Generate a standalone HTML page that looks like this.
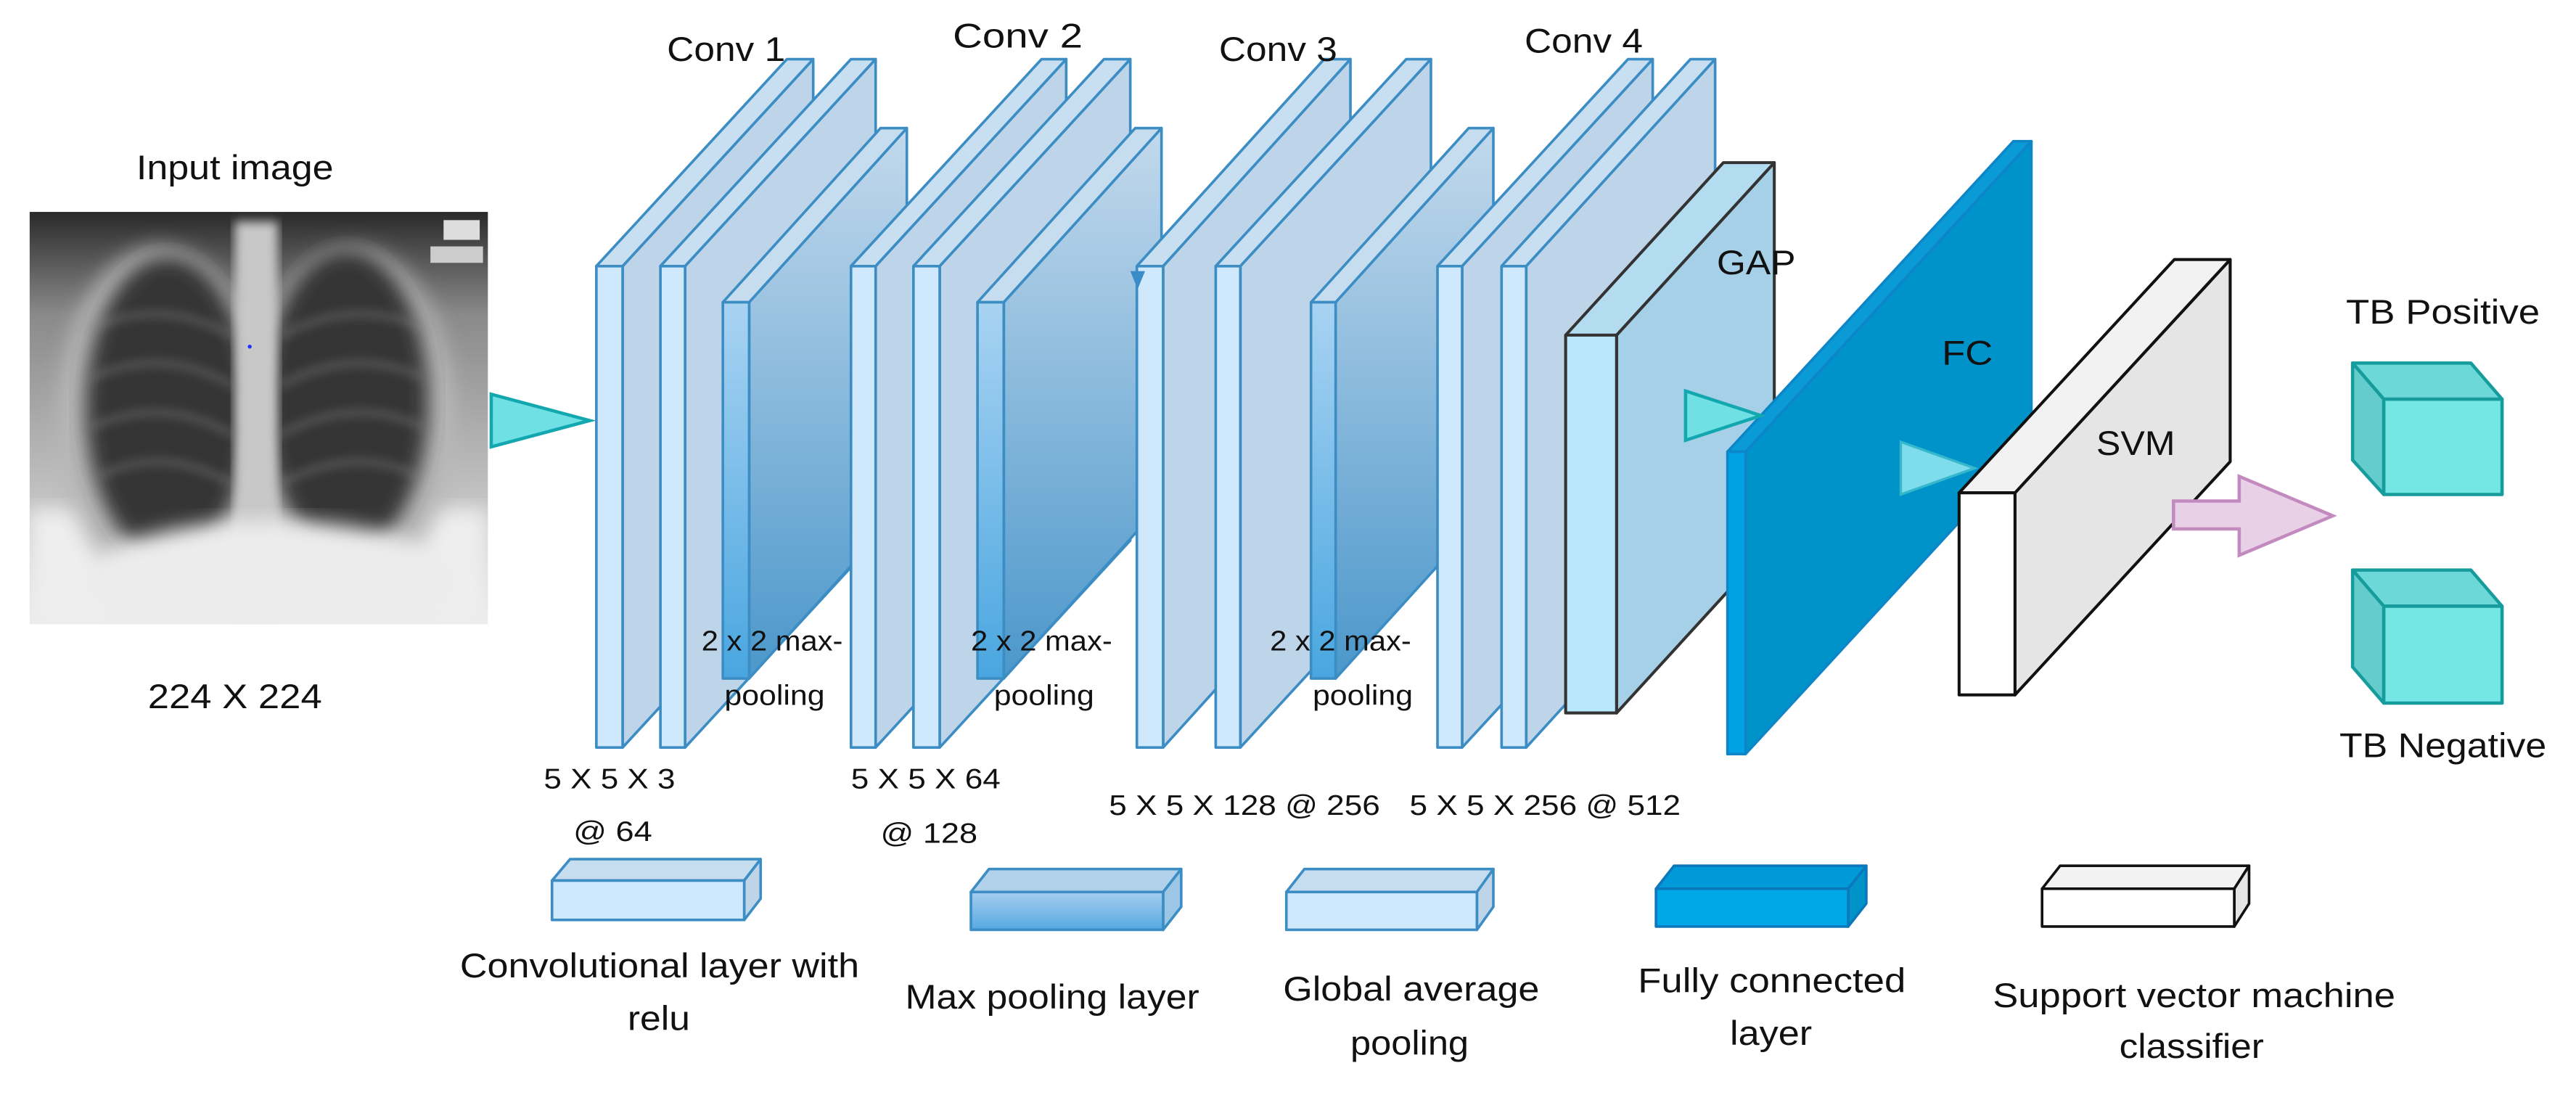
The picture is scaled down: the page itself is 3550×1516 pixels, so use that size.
<!DOCTYPE html>
<html><head><meta charset="utf-8"><style>
html,body{margin:0;padding:0;background:#fff;}
svg{display:block;}
text{font-family:"Liberation Sans",Arial,sans-serif;fill:#111;}
</style></head><body>
<svg width="3550" height="1516" viewBox="0 0 1568 669.6" preserveAspectRatio="none" xmlns="http://www.w3.org/2000/svg">
<defs>
<linearGradient id="pg" x1="0" y1="0" x2="0" y2="1"><stop offset="0" stop-color="#c3d9ec"/><stop offset="1" stop-color="#4b97cb"/></linearGradient>
<linearGradient id="pf" x1="0" y1="0" x2="0" y2="1"><stop offset="0" stop-color="#a9d3f2"/><stop offset="1" stop-color="#49a6e0"/></linearGradient>
<linearGradient id="lp" x1="0" y1="0" x2="0" y2="1"><stop offset="0" stop-color="#a5cdef"/><stop offset="1" stop-color="#56a9e2"/></linearGradient>
<linearGradient id="xbg" x1="0" y1="0" x2="0" y2="1"><stop offset="0" stop-color="#2a2a2a"/><stop offset="0.25" stop-color="#8a8a8a"/><stop offset="0.8" stop-color="#d0d0d0"/><stop offset="1" stop-color="#ececec"/></linearGradient>
<filter id="bl"><feGaussianBlur stdDeviation="6"/></filter>
<filter id="bl2"><feGaussianBlur stdDeviation="3"/></filter>
<clipPath id="xc"><rect x="18" y="129" width="279" height="251"/></clipPath>
</defs>

<!-- input image -->
<text x="143" y="109" font-size="21" text-anchor="middle" textLength="120" lengthAdjust="spacingAndGlyphs">Input image</text>
<g clip-path="url(#xc)">
<rect x="18" y="129" width="279" height="251" fill="url(#xbg)"/>
<rect x="18" y="310" width="279" height="70" fill="#eeeeee" filter="url(#bl)"/>
<ellipse cx="98" cy="255" rx="62" ry="105" fill="#b8b8b8" filter="url(#bl)"/>
<ellipse cx="214" cy="255" rx="62" ry="105" fill="#b8b8b8" filter="url(#bl)"/>
<ellipse cx="102" cy="248" rx="50" ry="92" fill="#353535" filter="url(#bl)"/>
<ellipse cx="211" cy="244" rx="50" ry="92" fill="#353535" filter="url(#bl)"/>
<rect x="143" y="135" width="26" height="245" fill="#c8c8c8" filter="url(#bl2)"/>
<ellipse cx="165" cy="355" rx="115" ry="38" fill="#ececec" filter="url(#bl)"/>
<g stroke="#8a8a8a" stroke-width="3" fill="none" opacity="0.55" filter="url(#bl2)">
<path d="M55 200 Q100 180 142 205"/><path d="M55 230 Q100 210 142 235"/><path d="M55 260 Q100 240 142 265"/><path d="M60 290 Q100 270 142 295"/>
<path d="M170 205 Q215 180 258 200"/><path d="M170 235 Q215 210 258 230"/><path d="M170 265 Q215 240 258 260"/><path d="M170 295 Q215 270 255 290"/>
</g>
<rect x="270" y="134" width="22" height="12" fill="#ddd"/>
<rect x="262" y="150" width="32" height="10" fill="#ccc"/>
<circle cx="152" cy="211" r="1.2" fill="#2030ff"/>
</g>
<text x="143" y="431" font-size="21" text-anchor="middle" textLength="106" lengthAdjust="spacingAndGlyphs">224 X 224</text>

<!-- input arrow -->
<polygon points="299,240 299,272 359,256" fill="#6fe0e4" stroke="#13a8b0" stroke-width="2"/>

<!-- layers -->
<g stroke="#3c8dc4" stroke-width="1.6" stroke-linejoin="round">
<polygon points="379,162 495,36 495,329 379,455" fill="#bed4e8"/><polygon points="363,162 479,36 495,36 379,162" fill="#c8def1"/><rect x="363" y="162" width="16" height="293" fill="#cfe8fb"/>
<polygon points="417,162 533,36 533,329 417,455" fill="#bed4e8"/><polygon points="402,162 518,36 533,36 417,162" fill="#c8def1"/><rect x="402" y="162" width="15" height="293" fill="#cfe8fb"/>
<polygon points="456,184 552,78 552,307 456,413" fill="url(#pg)"/><polygon points="440,184 536,78 552,78 456,184" fill="#c6dcef"/><rect x="440" y="184" width="16" height="229" fill="url(#pf)"/>
<polygon points="533,162 649,36 649,329 533,455" fill="#bed4e8"/><polygon points="518,162 634,36 649,36 533,162" fill="#c8def1"/><rect x="518" y="162" width="15" height="293" fill="#cfe8fb"/>
<polygon points="572,162 688,36 688,329 572,455" fill="#bed4e8"/><polygon points="556,162 672,36 688,36 572,162" fill="#c8def1"/><rect x="556" y="162" width="16" height="293" fill="#cfe8fb"/>
<polygon points="611,184 707,78 707,307 611,413" fill="url(#pg)"/><polygon points="595,184 691,78 707,78 611,184" fill="#c6dcef"/><rect x="595" y="184" width="16" height="229" fill="url(#pf)"/>
<polygon points="708,162 822,36 822,329 708,455" fill="#bed4e8"/><polygon points="692,162 806,36 822,36 708,162" fill="#c8def1"/><rect x="692" y="162" width="16" height="293" fill="#cfe8fb"/>
<polygon points="755,162 871,36 871,329 755,455" fill="#bed4e8"/><polygon points="740,162 856,36 871,36 755,162" fill="#c8def1"/><rect x="740" y="162" width="15" height="293" fill="#cfe8fb"/>
<polygon points="813,184 909,78 909,307 813,413" fill="url(#pg)"/><polygon points="798,184 894,78 909,78 813,184" fill="#c6dcef"/><rect x="798" y="184" width="15" height="229" fill="url(#pf)"/>
<polygon points="890,162 1006,36 1006,329 890,455" fill="#bed4e8"/><polygon points="875,162 991,36 1006,36 890,162" fill="#c8def1"/><rect x="875" y="162" width="15" height="293" fill="#cfe8fb"/>
<polygon points="929,162 1044,36 1044,329 929,455" fill="#bed4e8"/><polygon points="914,162 1029,36 1044,36 929,162" fill="#c8def1"/><rect x="914" y="162" width="15" height="293" fill="#cfe8fb"/>
</g>
<polygon points="688,165 697,165 692.5,176" fill="#3a8cc8"/>
<g stroke="#333" stroke-width="1.8" stroke-linejoin="round">
<polygon points="984,204 1080,99 1080,329 984,434" fill="#a6d0e7"/><polygon points="953,204 1049,99 1080,99 984,204" fill="#b4dcf1"/><rect x="953" y="204" width="31" height="230" fill="#b8e6fb"/>
</g>
<g stroke="#0d86c8" stroke-width="1.6" stroke-linejoin="round">
<polygon points="1062.5,275 1236.5,86 1236.5,270 1062.5,459" fill="#0093c9"/><polygon points="1051.5,275 1225.5,86 1236.5,86 1062.5,275" fill="#0a9ad6"/><rect x="1051.5" y="275" width="11" height="184" fill="#00a2e3"/>
</g>
<polygon points="1026,238 1026,268 1072,253" fill="#6fe0e4" stroke="#13a8b0" stroke-width="2"/>
<g stroke="#111" stroke-width="1.8" stroke-linejoin="round">
<polygon points="1226.5,300 1357.5,158 1357.5,281 1226.5,423" fill="#e5e5e5"/><polygon points="1192.5,300 1323.5,158 1357.5,158 1226.5,300" fill="#f2f2f2"/><rect x="1192.5" y="300" width="34" height="123" fill="#fff"/>
</g>
<polygon points="1157,269 1157,301 1202,285" fill="#7fdcec" stroke="#35b8cc" stroke-width="1.5"/>
<polygon points="1323,305 1363,305 1363,290 1420,314 1363,338 1363,322 1323,322" fill="#e8d0e6" stroke="#c38ac0" stroke-width="2"/>
<g stroke="#169c9c" stroke-width="2" stroke-linejoin="round">
<polygon points="1432,221 1504,221 1523,243 1451,243" fill="#6cd9d8"/><polygon points="1432,221 1451,243 1451,301 1432,280" fill="#64cccc"/><rect x="1451" y="243" width="72" height="58" fill="#74e6e4"/>
<polygon points="1432,347 1504,347 1523,369 1451,369" fill="#6cd9d8"/><polygon points="1432,347 1451,369 1451,428 1432,406" fill="#64cccc"/><rect x="1451" y="369" width="72" height="59" fill="#74e6e4"/>
</g>
<text x="1487" y="197" font-size="21" text-anchor="middle" textLength="118" lengthAdjust="spacingAndGlyphs">TB Positive</text>
<text x="1487" y="461" font-size="21" text-anchor="middle" textLength="126" lengthAdjust="spacingAndGlyphs">TB Negative</text>

<g font-size="21">
<text x="406" y="37" textLength="72" lengthAdjust="spacingAndGlyphs">Conv 1</text>
<text x="580" y="29" textLength="79" lengthAdjust="spacingAndGlyphs">Conv  2</text>
<text x="742" y="37" textLength="72" lengthAdjust="spacingAndGlyphs">Conv 3</text>
<text x="928" y="32" textLength="72" lengthAdjust="spacingAndGlyphs">Conv 4</text>
<text x="1045" y="167" textLength="48" lengthAdjust="spacingAndGlyphs">GAP</text>
<text x="1182" y="222" textLength="31" lengthAdjust="spacingAndGlyphs">FC</text>
<text x="1276" y="277" textLength="48" lengthAdjust="spacingAndGlyphs">SVM</text>
</g>
<g font-size="17">
<text x="427" y="396" textLength="86" lengthAdjust="spacingAndGlyphs">2 x 2 max-</text>
<text x="441" y="429" textLength="61" lengthAdjust="spacingAndGlyphs">pooling</text>
<text x="591" y="396" textLength="86" lengthAdjust="spacingAndGlyphs">2 x 2 max-</text>
<text x="605" y="429" textLength="61" lengthAdjust="spacingAndGlyphs">pooling</text>
<text x="773" y="396" textLength="86" lengthAdjust="spacingAndGlyphs">2 x 2 max-</text>
<text x="799" y="429" textLength="61" lengthAdjust="spacingAndGlyphs">pooling</text>
<text x="331" y="480" textLength="80" lengthAdjust="spacingAndGlyphs">5 X 5 X 3</text>
<text x="349" y="512" textLength="48" lengthAdjust="spacingAndGlyphs">@ 64</text>
<text x="518" y="480" textLength="91" lengthAdjust="spacingAndGlyphs">5 X 5 X 64</text>
<text x="536" y="513" textLength="59" lengthAdjust="spacingAndGlyphs">@ 128</text>
<text x="675" y="496" textLength="165" lengthAdjust="spacingAndGlyphs">5 X 5 X 128 @ 256</text>
<text x="858" y="496" textLength="165" lengthAdjust="spacingAndGlyphs">5 X 5 X 256 @ 512</text>
</g>

<g stroke-width="1.6" stroke-linejoin="round">
<g stroke="#3c8dc4"><polygon points="336,536 347,523 463,523 453,536" fill="#c6dcef"/><polygon points="453,536 463,523 463,547 453,560" fill="#bed4e8"/><rect x="336" y="536" width="117" height="24" fill="#cfe8fb"/></g>
<g stroke="#3c8dc4"><polygon points="591,543 602,529 719,529 708,543" fill="#b2d2ec"/><polygon points="708,543 719,529 719,552 708,566" fill="#9cc6e6"/><rect x="591" y="543" width="117" height="23" fill="url(#lp)"/></g>
<g stroke="#3c8dc4"><polygon points="783,543 794,529 909,529 899,543" fill="#c6dcef"/><polygon points="899,543 909,529 909,552 899,566" fill="#bed4e8"/><rect x="783" y="543" width="116" height="23" fill="#cfe8fb"/></g>
<g stroke="#0c78bc"><polygon points="1008,541 1019,527 1136,527 1125,541" fill="#009ad8"/><polygon points="1125,541 1136,527 1136,550 1125,564" fill="#0093c9"/><rect x="1008" y="541" width="117" height="23" fill="#00a8e8"/></g>
<g stroke="#111"><polygon points="1243,541 1254,527 1369,527 1360,541" fill="#f2f2f2"/><polygon points="1360,541 1369,527 1369,550 1360,564" fill="#e5e5e5"/><rect x="1243" y="541" width="117" height="23" fill="#fff"/></g>
</g>
<g font-size="21">
<text x="280" y="595" textLength="243" lengthAdjust="spacingAndGlyphs">Convolutional layer with</text>
<text x="401" y="627" text-anchor="middle" textLength="38" lengthAdjust="spacingAndGlyphs">relu</text>
<text x="551" y="614" textLength="179" lengthAdjust="spacingAndGlyphs">Max pooling layer</text>
<text x="781" y="609" textLength="156" lengthAdjust="spacingAndGlyphs">Global average</text>
<text x="858" y="642" text-anchor="middle" textLength="72" lengthAdjust="spacingAndGlyphs">pooling</text>
<text x="997" y="604" textLength="163" lengthAdjust="spacingAndGlyphs">Fully connected</text>
<text x="1078" y="636" text-anchor="middle" textLength="50" lengthAdjust="spacingAndGlyphs">layer</text>
<text x="1213" y="613" textLength="245" lengthAdjust="spacingAndGlyphs">Support vector machine</text>
<text x="1334" y="644" text-anchor="middle" textLength="88" lengthAdjust="spacingAndGlyphs">classifier</text>
</g>
</svg>
</body></html>
